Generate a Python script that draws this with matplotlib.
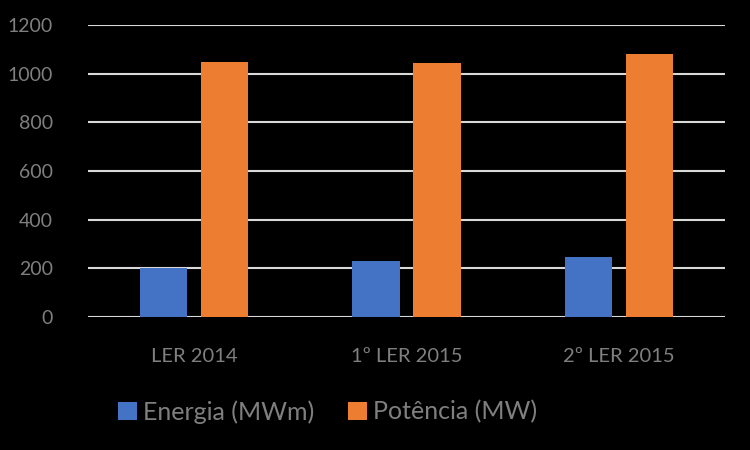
import matplotlib
matplotlib.use("Agg")
import matplotlib.pyplot as plt
import numpy as np

categories = ["LER 2014", "1º LER 2015", "2º LER 2015"]
energia = [200, 230, 247]
potencia = [1048, 1044, 1081]
series_labels = ["Energia (MWm)", "Potência (MW)"]
yticks = [0, 200, 400, 600, 800, 1000, 1200]

plt.rcParams["font.family"] = ["Lato", "DejaVu Sans"]
text_color = "#7f7f7f"

fig = plt.figure(figsize=(7.5, 4.5), dpi=100, facecolor="black")
ax = fig.add_axes([0.117, 0.2956, 0.85, 0.6489], facecolor="black")

x = np.arange(len(categories))
w = 0.224
off = 0.143
b1 = ax.bar(x - off, energia, w, color="#4472C4", label=series_labels[0], zorder=3)
b2 = ax.bar(x + off, potencia, w, color="#ED7D31", label=series_labels[1], zorder=3)

ax.set_xlim(-0.5, 2.5)
ax.set_ylim(0, 1200)
ax.set_yticks(yticks)
ax.set_xticks(x)
ax.set_xticklabels(categories)
ax.grid(axis="y", color="#d9d9d9", linewidth=1.5, zorder=0)
for s in ax.spines.values():
    s.set_visible(False)
ax.tick_params(axis="y", length=0, pad=25, labelsize=14, labelcolor=text_color)
ax.tick_params(axis="x", length=0, pad=22, labelsize=14.5, labelcolor=text_color)

leg = fig.legend(handles=[b1, b2], loc="center left", bbox_to_anchor=(0.157, 0.085),
                 ncol=2, frameon=False, fontsize=18, handlelength=0.75, handleheight=0.75,
                 handletextpad=0.25, columnspacing=1.35, borderpad=0, borderaxespad=0)
for t in leg.get_texts():
    t.set_color(text_color)

fig.savefig("out.png", dpi=100, facecolor="black")
